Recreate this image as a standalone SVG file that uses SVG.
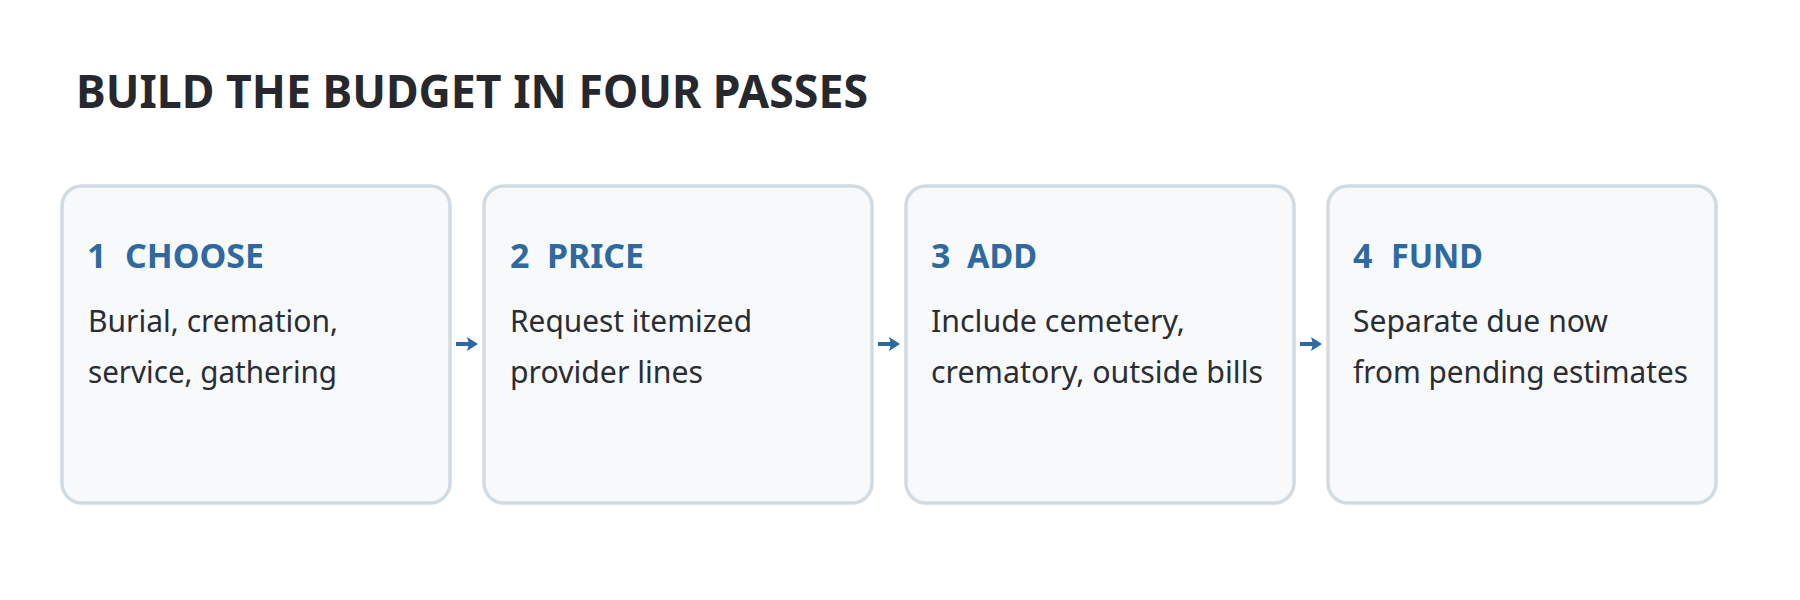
<svg xmlns="http://www.w3.org/2000/svg" width="1800" height="600" viewBox="0 0 1800 600">
<style>
.bg{fill:#ffffff}
.card{fill:#f7f9fb;stroke:#d3dbe2;stroke-width:3.5}
.title{font-family:"Noto Sans","Liberation Sans",sans-serif;font-weight:700;font-size:46px;fill:#26282d}
.head{font-family:"Noto Sans","Liberation Sans",sans-serif;font-weight:700;font-size:34px;fill:#2e6aa0}
.body{font-family:"Noto Sans","Liberation Sans",sans-serif;font-size:30px;fill:#2a2d33}
.conn{stroke:#2e6aa0;stroke-width:4;fill:none}
.head-arrow{fill:#2e6aa0}
</style>
<rect class="bg" x="0" y="0" width="1800" height="600"/>
<text class="title" x="76" y="108" textLength="792" lengthAdjust="spacingAndGlyphs">BUILD THE BUDGET IN FOUR PASSES</text>

<g id="node-1">
<rect class="card" x="62" y="186" width="388" height="317" rx="20"/>
<text class="head" x="87" y="268">1</text>
<text class="head" x="125" y="268" textLength="139" lengthAdjust="spacingAndGlyphs">CHOOSE</text>
<text class="body" x="88" y="332" textLength="250" lengthAdjust="spacingAndGlyphs">Burial, cremation,</text>
<text class="body" x="88" y="383" textLength="249" lengthAdjust="spacingAndGlyphs">service, gathering</text>
</g>

<g id="node-2">
<rect class="card" x="484" y="186" width="388" height="317" rx="20"/>
<text class="head" x="510" y="268">2</text>
<text class="head" x="547" y="268" textLength="97" lengthAdjust="spacingAndGlyphs">PRICE</text>
<text class="body" x="510" y="332" textLength="242" lengthAdjust="spacingAndGlyphs">Request itemized</text>
<text class="body" x="510" y="383" textLength="193" lengthAdjust="spacingAndGlyphs">provider lines</text>
</g>

<g id="node-3">
<rect class="card" x="906" y="186" width="388" height="317" rx="20"/>
<text class="head" x="931" y="268">3</text>
<text class="head" x="967" y="268" textLength="70" lengthAdjust="spacingAndGlyphs">ADD</text>
<text class="body" x="931" y="332" textLength="254" lengthAdjust="spacingAndGlyphs">Include cemetery,</text>
<text class="body" x="931" y="383" textLength="332" lengthAdjust="spacingAndGlyphs">crematory, outside bills</text>
</g>

<g id="node-4">
<rect class="card" x="1328" y="186" width="388" height="317" rx="20"/>
<text class="head" x="1353" y="268">4</text>
<text class="head" x="1391" y="268" textLength="92" lengthAdjust="spacingAndGlyphs">FUND</text>
<text class="body" x="1353" y="332" textLength="255" lengthAdjust="spacingAndGlyphs">Separate due now</text>
<text class="body" x="1353" y="383" textLength="335" lengthAdjust="spacingAndGlyphs">from pending estimates</text>
</g>

<g id="connectors">
<line class="conn" x1="456" y1="344" x2="470" y2="344"/>
<polygon class="head-arrow" points="467,337 478,344 467,351 469,344"/>
<line class="conn" x1="878" y1="344" x2="892" y2="344"/>
<polygon class="head-arrow" points="889,337 900,344 889,351 891,344"/>
<line class="conn" x1="1300" y1="344" x2="1314" y2="344"/>
<polygon class="head-arrow" points="1311,337 1322,344 1311,351 1313,344"/>
</g>
</svg>
